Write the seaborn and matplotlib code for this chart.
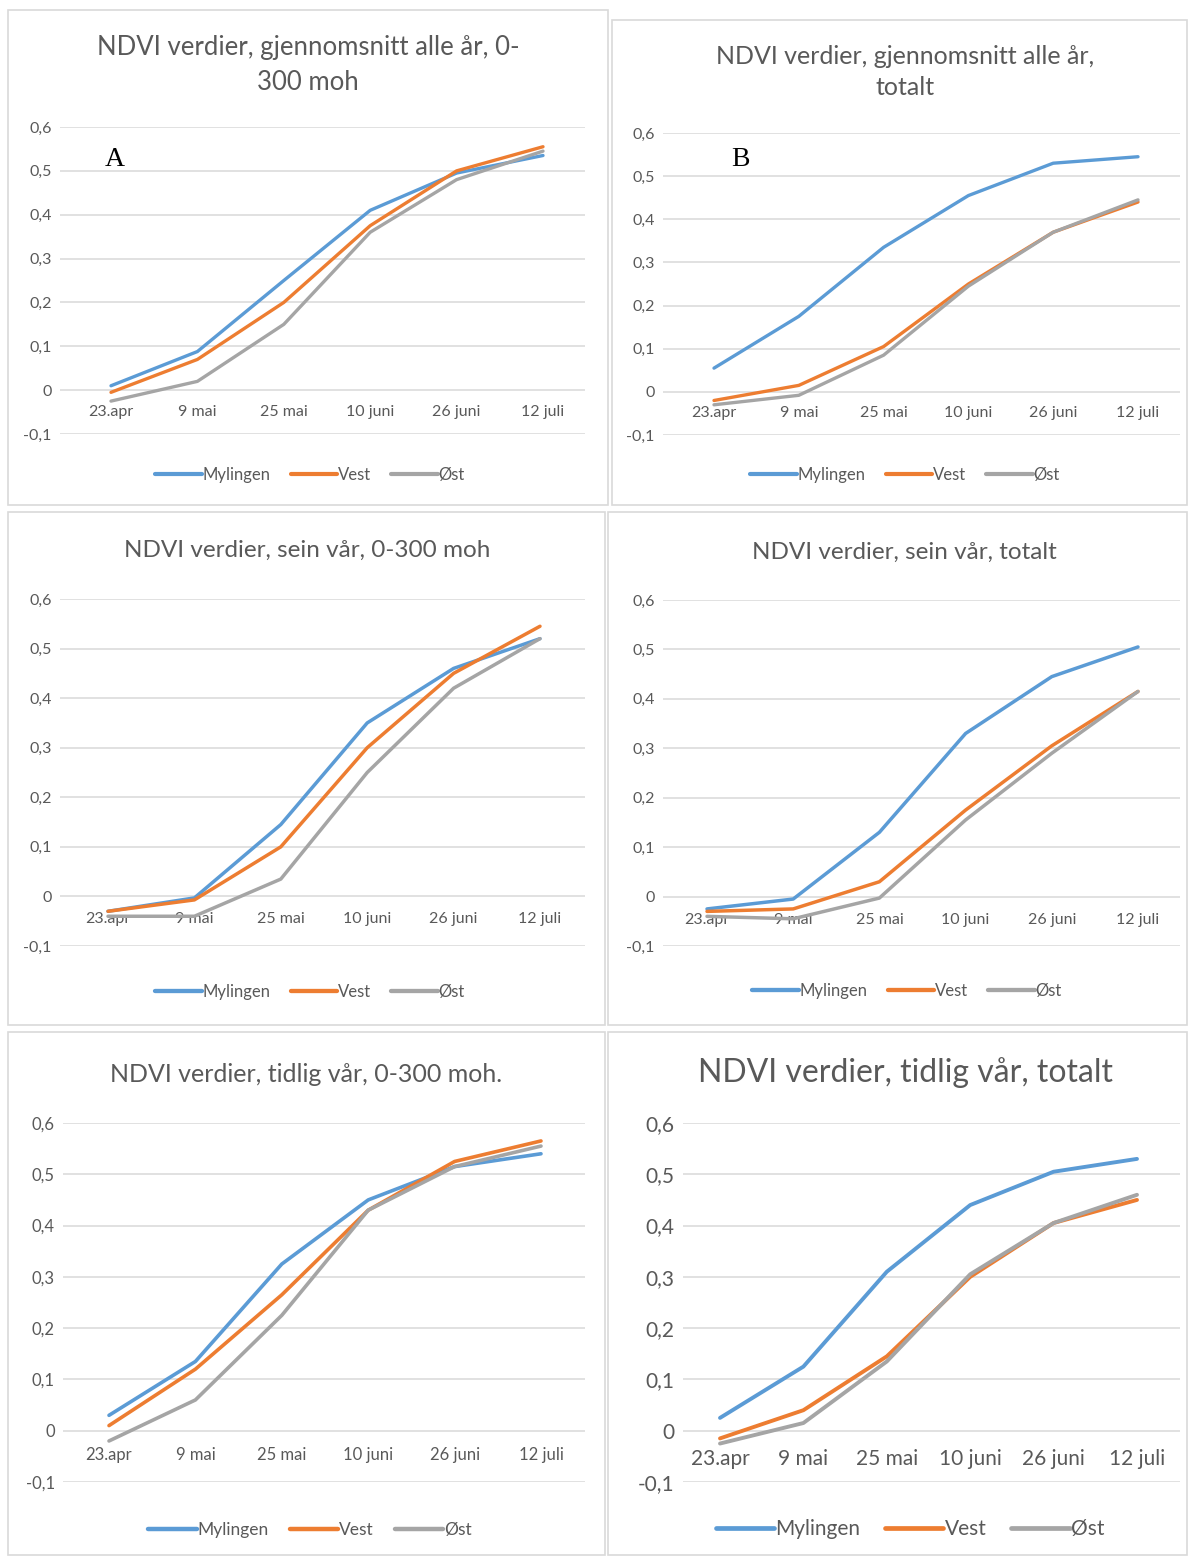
"""
NDVI-kurver for Mylingen, Vest og Øst - seks paneler (A-F).
Lagrer out.png.
"""

import numpy as np
import pandas as pd
import matplotlib
matplotlib.use("Agg")
import matplotlib.pyplot as plt
import seaborn as sns
from matplotlib.patches import Rectangle
from matplotlib.lines import Line2D

sns.set_theme(style="white")
plt.rcParams["font.family"] = ["Lato", "DejaVu Sans"]

DATES = ["23.apr", "9 mai", "25 mai", "10 juni", "26 juni", "12 juli"]
SERIES = ["Mylingen", "Vest", "Øst"]
COLORS = {"Mylingen": "#5B9BD5", "Vest": "#ED7D31", "Øst": "#A5A5A5"}
TXT = "#595959"
GRID = "#d9d9d9"

# --- data (lest av figuren) ---
a_myl = [0.010, 0.088, 0.250, 0.410, 0.495, 0.535]
a_vest = [-0.005, 0.070, 0.200, 0.375, 0.500, 0.555]
a_ost = [-0.025, 0.020, 0.150, 0.360, 0.480, 0.545]

b_myl = [0.055, 0.175, 0.335, 0.455, 0.530, 0.545]
b_vest = [-0.020, 0.015, 0.105, 0.250, 0.370, 0.440]
b_ost = [-0.030, -0.008, 0.085, 0.245, 0.370, 0.445]

c_myl = [-0.030, -0.003, 0.145, 0.350, 0.460, 0.520]
c_vest = [-0.030, -0.007, 0.100, 0.300, 0.450, 0.545]
c_ost = [-0.040, -0.040, 0.035, 0.250, 0.420, 0.520]

d_myl = [-0.025, -0.005, 0.130, 0.330, 0.445, 0.505]
d_vest = [-0.030, -0.025, 0.030, 0.175, 0.305, 0.415]
d_ost = [-0.040, -0.045, -0.003, 0.155, 0.290, 0.415]

e_myl = [0.030, 0.135, 0.325, 0.450, 0.515, 0.540]
e_vest = [0.010, 0.120, 0.265, 0.430, 0.525, 0.565]
e_ost = [-0.020, 0.060, 0.225, 0.430, 0.515, 0.555]

f_myl = [0.025, 0.125, 0.310, 0.440, 0.505, 0.530]
f_vest = [-0.015, 0.040, 0.145, 0.300, 0.405, 0.450]
f_ost = [-0.025, 0.015, 0.135, 0.305, 0.405, 0.460]

TITLES = [
    "NDVI verdier, gjennomsnitt alle år, 0-\n300 moh",
    "NDVI verdier, gjennomsnitt alle år,\ntotalt",
    "NDVI verdier, sein vår, 0-300 moh",
    "NDVI verdier, sein vår, totalt",
    "NDVI verdier, tidlig vår, 0-300 moh.",
    "NDVI verdier, tidlig vår, totalt",
]
VALUES = [
    (a_myl, a_vest, a_ost), (b_myl, b_vest, b_ost),
    (c_myl, c_vest, c_ost), (d_myl, d_vest, d_ost),
    (e_myl, e_vest, e_ost), (f_myl, f_vest, f_ost),
]
LETTERS = ["A", "B", None, None, None, None]

# --- layout i piksler ---
W, H = 1189, 1557
LAYOUT = [
    dict(box=(8, 10, 608, 505), gx=(60, 585), gy=(127, 434), px=(111, 543),
         title=(308, 65), leg=(310, 475), ts=18.5, ks=11.5, ls=12, lw=2.4,
         xpad=10.5, letter=(115, 160)),
    dict(box=(612, 20, 1187, 505), gx=(663, 1180), gy=(133, 435), px=(714, 1138),
         title=(905, 72), leg=(905, 475), ts=18, ks=11.5, ls=12, lw=2.4,
         xpad=10.5, letter=(740, 160)),
    dict(box=(8, 512, 605, 1025), gx=(60, 585), gy=(599, 946), px=(108, 540),
         title=(307, 550), leg=(310, 992), ts=17.5, ks=11.5, ls=12, lw=2.5,
         xpad=11.5),
    dict(box=(608, 512, 1187, 1025), gx=(663, 1180), gy=(600, 946), px=(707, 1138),
         title=(904, 552), leg=(907, 991), ts=17.5, ks=11.5, ls=12, lw=2.5,
         xpad=11.5),
    dict(box=(8, 1032, 605, 1555), gx=(63, 585), gy=(1123, 1482), px=(109, 541),
         title=(306, 1075), leg=(310, 1530), ts=18, ks=12, ls=12.5, lw=2.6,
         xpad=12),
    dict(box=(608, 1032, 1187, 1555), gx=(683, 1180), gy=(1123, 1482), px=(720, 1137),
         title=(906, 1073), leg=(910, 1529), ts=23, ks=15, ls=15, lw=2.8,
         xpad=13),
]


def fmt(v):
    if abs(v) < 1e-9:
        return "0"
    return f"{v:.1f}".replace(".", ",")


fig = plt.figure(figsize=(W / 100, H / 100), dpi=100)
fig.patch.set_facecolor("white")

for title, vals, letter, lay in zip(TITLES, VALUES, LETTERS, LAYOUT):
    bx0, by0, bx1, by1 = lay["box"]
    fig.add_artist(Rectangle((bx0 / W, 1 - by1 / H), (bx1 - bx0) / W, (by1 - by0) / H,
                             transform=fig.transFigure, fill=False, ec=GRID, lw=1.2))

    gx0, gx1 = lay["gx"]
    gtop, gbot = lay["gy"]
    ax = fig.add_axes([gx0 / W, 1 - gbot / H, (gx1 - gx0) / W, (gbot - gtop) / H])

    df = pd.DataFrame({
        "idx": np.tile(np.arange(len(DATES)), len(SERIES)),
        "ndvi": np.concatenate(vals),
        "serie": np.repeat(SERIES, len(DATES)),
    })
    sns.lineplot(data=df, x="idx", y="ndvi", hue="serie", hue_order=SERIES,
                 palette=COLORS, lw=lay["lw"], legend=False, ax=ax, clip_on=False)

    p0, p5 = lay["px"]
    unit = (p5 - p0) / 5
    ax.set_xlim((gx0 - p0) / unit, (gx1 - p0) / unit)
    ax.set_ylim(-0.1, 0.6)
    yt = np.round(np.arange(-0.1, 0.61, 0.1), 1)
    ax.set_yticks(yt)
    ax.set_yticklabels([fmt(v) for v in yt])
    ax.set_xticks(range(len(DATES)))
    ax.set_xticklabels(DATES)
    ax.yaxis.grid(True, color=GRID, lw=1.1)
    ax.xaxis.grid(False)
    ax.set_axisbelow(True)
    for s in ax.spines.values():
        s.set_visible(False)
    ax.spines["bottom"].set_position(("data", 0))
    ax.tick_params(axis="both", length=0, colors=TXT, labelsize=lay["ks"])
    ax.tick_params(axis="y", pad=6)
    ax.tick_params(axis="x", pad=lay["xpad"])
    ax.set_xlabel("")
    ax.set_ylabel("")
    ax.set_facecolor("none")

    tx, ty = lay["title"]
    fig.text(tx / W, 1 - ty / H, title, ha="center", va="center",
             color=TXT, fontsize=lay["ts"], linespacing=1.45)

    if letter:
        lx, ly = lay["letter"]
        fig.text(lx / W, 1 - ly / H, letter, ha="center", va="center",
                 color="black", fontsize=20, family="Liberation Serif")

    handles = [Line2D([], [], color=COLORS[s], lw=lay["lw"] + 0.6) for s in SERIES]
    lgx, lgy = lay["leg"]
    leg = fig.legend(handles, SERIES, loc="center", bbox_to_anchor=(lgx / W, 1 - lgy / H),
                     ncol=3, frameon=False, fontsize=lay["ls"], handlelength=2.8,
                     handletextpad=0.05, columnspacing=1.2)
    for t in leg.get_texts():
        t.set_color(TXT)

fig.savefig("out.png", dpi=100, facecolor="white")
